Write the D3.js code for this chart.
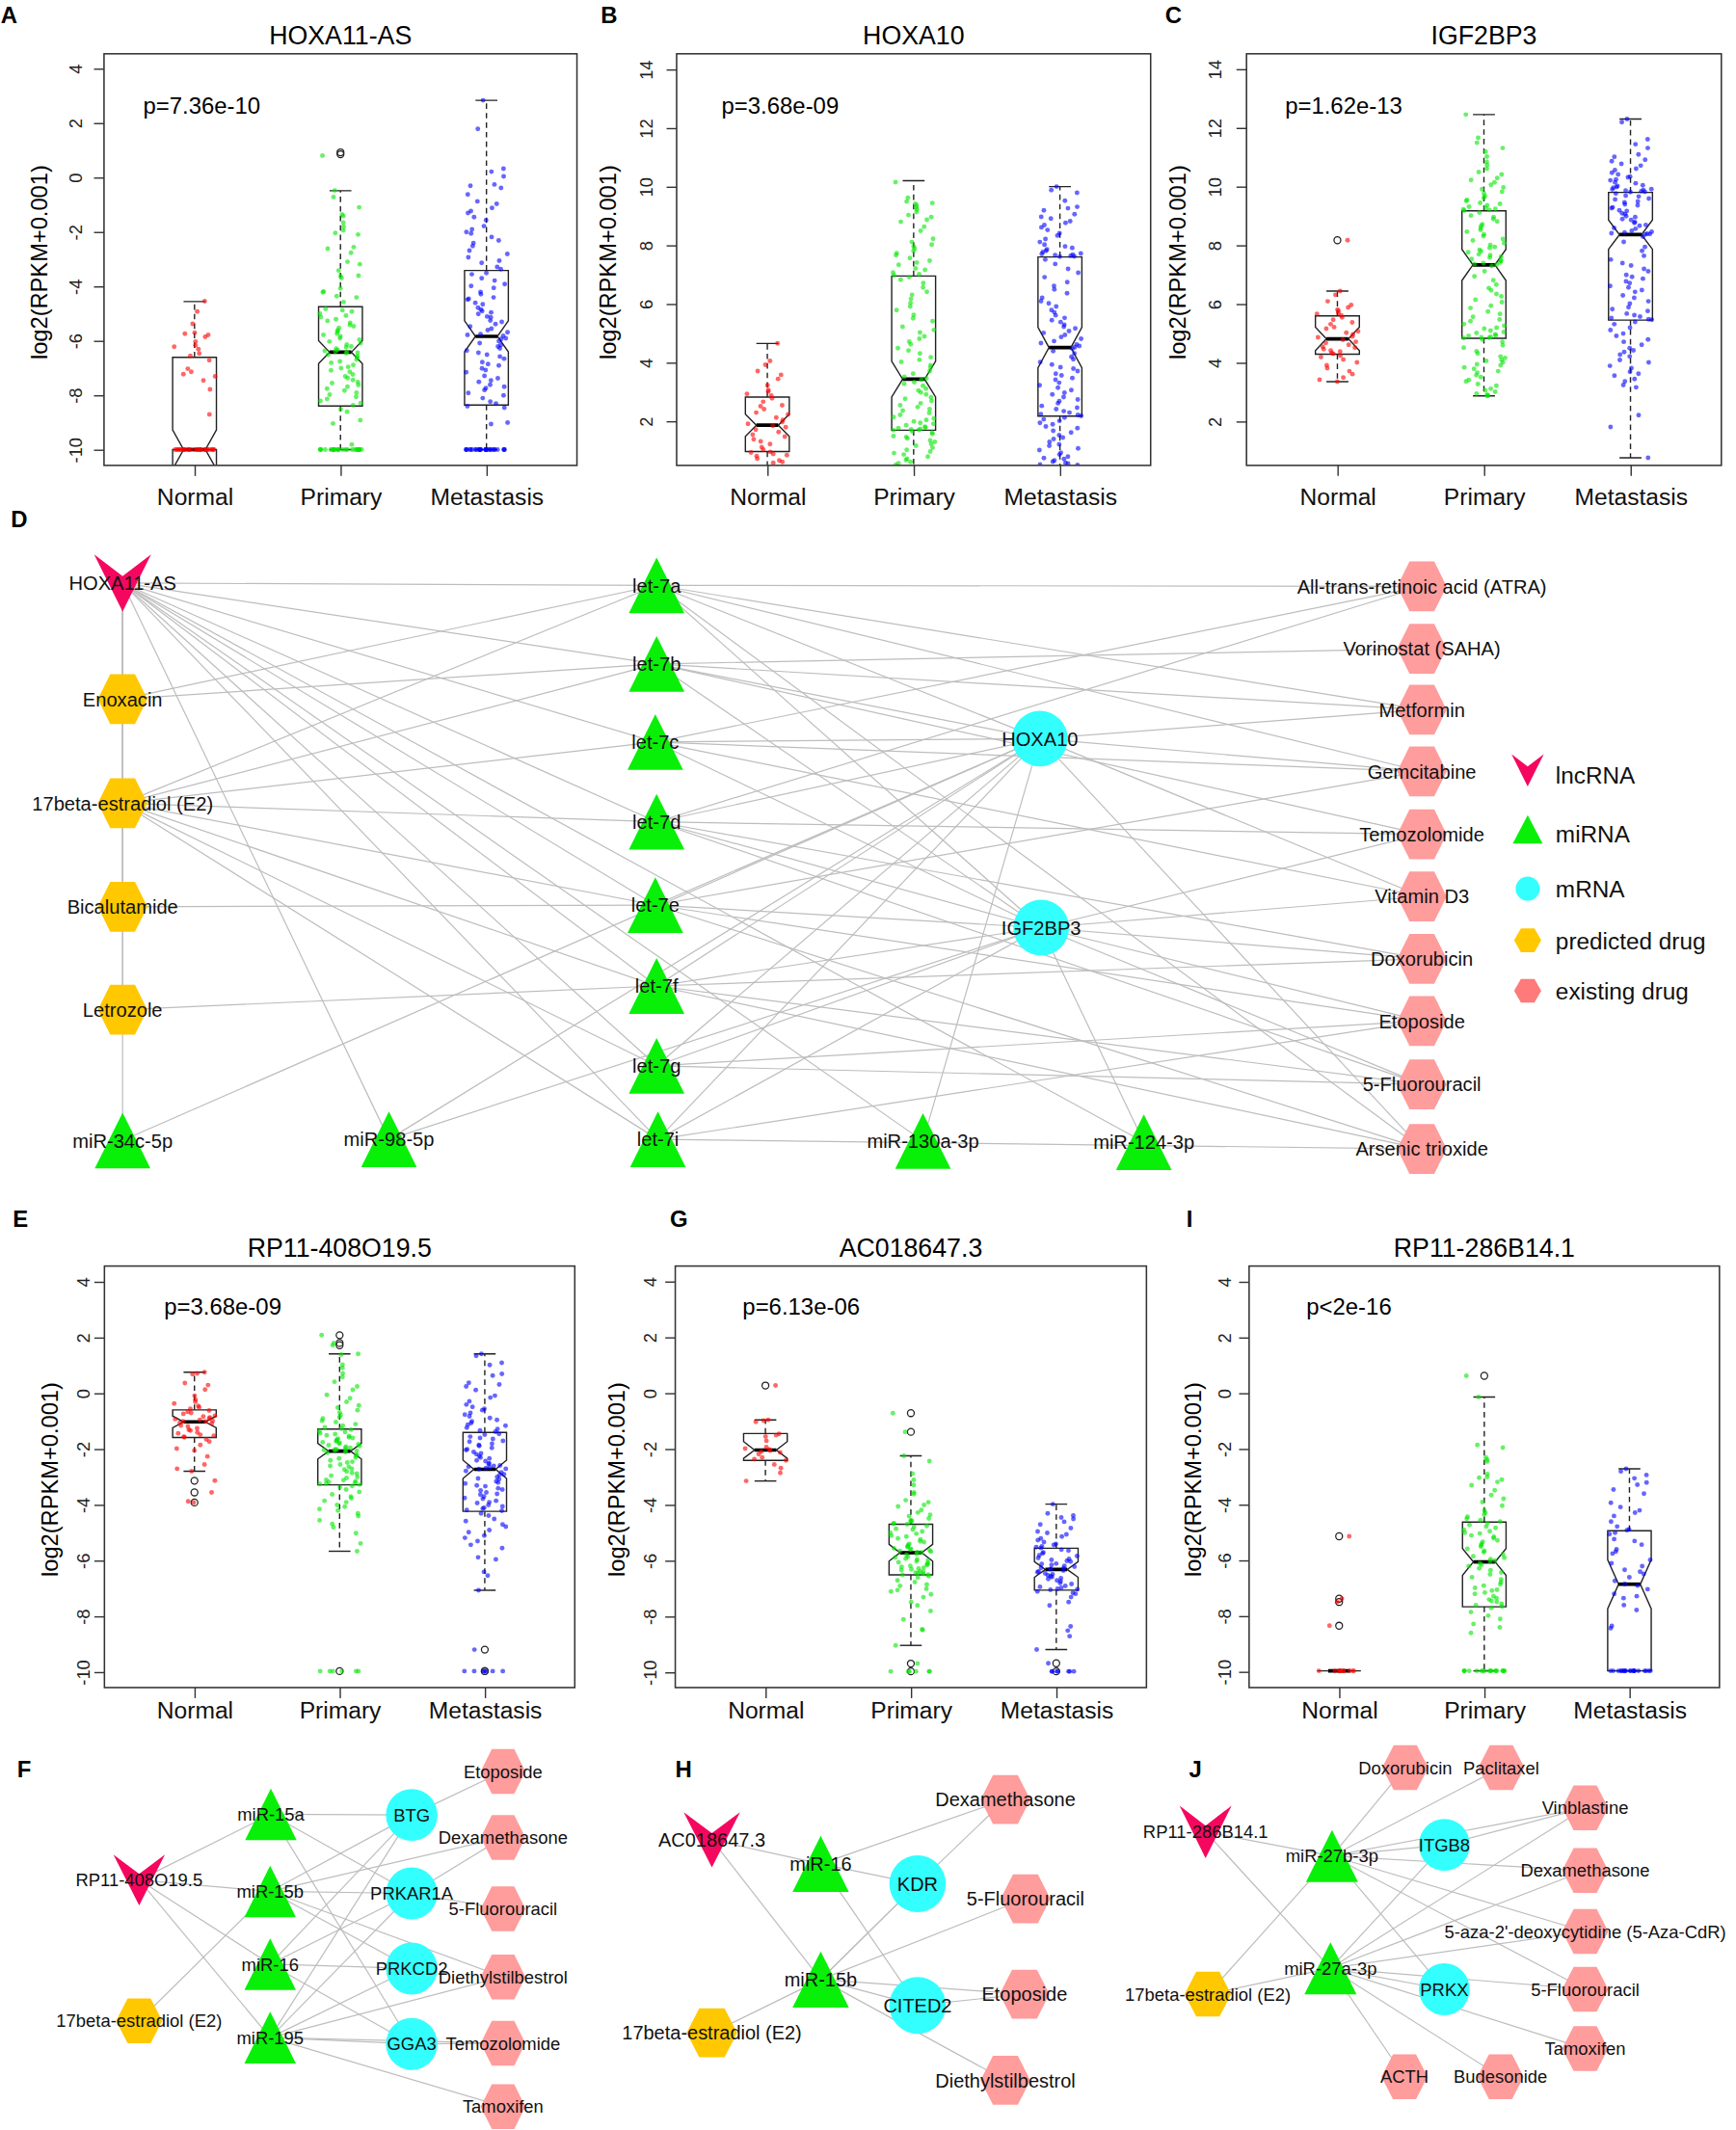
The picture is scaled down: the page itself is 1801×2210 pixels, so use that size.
<!DOCTYPE html>
<html>
<head>
<meta charset="utf-8">
<script src="https://cdn.jsdelivr.net/npm/d3@7"></script>
<style>
  body { margin: 0; background: #fff; }
  svg { display: block; }
  text { font-family: "Liberation Sans", Arial, Helvetica, sans-serif; }
</style>
</head>
<body>
<svg id="fig"></svg>
<script>
// ---------- data: expression values, log2(RPKM+0.001) ----------
const groupNames = ['Normal', 'Primary', 'Metastasis'];
const ticksLow = [-10, -8, -6, -4, -2, 0, 2, 4];
const ticksHigh = [2, 4, 6, 8, 10, 12, 14];

// A  HOXA11-AS
const hoxa11asNormal = [-4.55,-4.93,-5.38,-5.74,-5.79,-5.86,-5.71,-6.03,-6.17,-6.22,-6.31,-6.47,-6.56,-6.72,-7.03,-7.14,-7.23,-7.31,-7.46,-7.79,-8.71,
  -10,-10,-10,-10,-10,-10,-10,-10,-10,-10,-10,-10,-10,-10,-10,-10,-10,-10,-10,-10,-10,-10,-10,-10,-10];
const hoxa11asPrimary = [0.8,-0.48,-0.72,-1.1,-1.36,-1.42,-1.66,-1.81,-1.95,-2.04,-2.1,-2.56,-2.62,-2.77,-3.1,-3.19,-3.42,-3.61,-3.63,-3.7,-4.08,-4.19,-4.22,-4.36,-4.41,-4.58,
  -4.83,-4.88,-4.93,-5.01,-5.08,-5.13,-5.21,-5.27,-5.34,-5.42,-5.47,-5.53,-5.62,-5.66,-5.74,-5.79,-5.84,-5.91,-5.96,-6.03,-6.09,-6.14,-6.21,-6.24,-6.29,-6.34,-6.37,-6.4,-6.41,
  -6.44,-6.46,-6.51,-6.57,-6.63,-6.69,-6.76,-6.81,-6.89,-6.96,-7.01,-7.09,-7.14,-7.24,-7.31,-7.37,-7.44,-7.52,-7.56,-7.63,-7.69,-7.76,-7.83,-7.91,-7.98,-8.06,-8.14,-8.21,-8.29,-8.37,
  -8.52,-8.61,-8.92,-9.04,-9.81,-10,-10,-10,-10,-10,-10,-10,-10,-10,-10,-10,-10,-10,-10,-10,-10,-10,-10,-10,-10,-10,-10,-10,-10,-10];
const hoxa11asMetastasis = [2.83,1.78,0.32,0.21,0.04,-0.26,-0.31,-0.39,-0.63,-0.88,-0.97,-1.12,-1.24,-1.31,-1.46,-1.57,-1.79,-1.91,-2.01,-2.06,-2.19,-2.32,-2.41,-2.52,-2.69,-2.81,-2.94,-3.06,-3.14,-3.29,-3.37,
  -3.51,-3.56,-3.71,-3.79,-3.92,-3.99,-4.06,-4.21,-4.29,-4.41,-4.46,-4.49,-4.61,-4.66,-4.79,-4.86,-4.91,-4.96,-5.02,-5.11,-5.14,-5.26,-5.31,-5.39,-5.48,-5.56,-5.61,-5.69,-5.76,-5.79,-5.82,
  -5.91,-5.94,-6.02,-6.09,-6.16,-6.21,-6.28,-6.36,-6.44,-6.51,-6.58,-6.66,-6.79,-6.86,-6.91,-7.02,-7.08,-7.16,-7.29,-7.38,-7.46,-7.51,-7.62,-7.69,-7.74,-7.81,-7.92,-8.01,-8.11,-8.24,-8.31,
  -8.41,-8.46,-9.01,-9.06,-10,-10,-10,-10,-10,-10,-10,-10,-10,-10,-10,-10,-10,-10,-10,-10,-10,-10,-10,-10,-10,-10,-10,-10,-10,-10,-10];
// box stats per group: [lower whisker, Q1, median, Q3, upper whisker, notch half-height]
const hoxa11asStats = [[-10,-10,-10,-6.61,-4.56,0.72],[-10,-8.4,-6.42,-4.75,-0.49,0.42],[-10,-8.36,-5.84,-3.42,2.83,0.57]];
const hoxa11asOutliers = [[], [0.85, 0.92], []];

// B  HOXA10
const hoxa10Normal = [4.65,4.05,3.92,3.71,3.58,3.44,3.22,3.06,3.01,2.93,2.87,2.78,2.66,2.54,2.51,2.41,2.29,2.23,2.12,2.04,1.97,1.91,1.84,1.79,1.71,1.63,1.54,1.47,1.38,1.31,1.22,1.11,1.03,0.95,0.93,0.88,0.84,0.81,0.72,0.66,0.61,0.58];
const hoxa10Primary = [10.15,9.62,9.49,9.44,9.41,9.36,9.29,9.22,9.13,9.03,8.96,8.87,8.8,8.63,8.49,8.22,8.11,8.02,7.96,7.88,7.81,7.73,7.66,7.56,7.47,7.41,7.33,7.21,7.16,7.07,7.01,6.97,
  6.91,6.82,6.71,6.56,6.41,6.31,6.17,6.03,5.91,5.79,5.62,5.51,5.41,5.22,5.11,5.02,4.89,4.81,4.71,4.62,4.49,4.41,4.31,4.18,4.09,4.02,3.91,3.82,3.71,3.62,3.51,3.46,
  3.41,3.33,3.27,3.21,3.11,3.04,2.98,2.91,2.81,2.76,2.69,2.61,2.54,2.48,2.41,2.36,2.28,2.21,2.14,2.09,2.04,1.99,1.94,1.91,1.86,1.81,1.78,1.76,1.73,1.72,1.7,1.69,
  1.65,1.61,1.56,1.49,1.46,1.41,1.34,1.29,1.22,1.16,1.09,1.02,0.96,0.91,0.86,0.79,0.72,0.67,0.61,0.56,0.51];
const hoxa10Metastasis = [10.0,9.88,9.79,9.52,9.31,9.26,9.19,9.06,8.97,8.91,8.82,8.76,8.69,8.61,8.52,8.41,8.33,8.21,8.11,8.02,7.96,7.91,7.86,7.81,7.77,7.72,7.7,7.68,7.66,7.64,7.62,7.61,
  7.51,7.36,7.19,7.06,6.91,6.74,6.61,6.49,6.36,6.21,6.09,6.02,5.91,5.79,5.71,5.61,5.52,5.44,5.38,5.29,5.22,5.16,5.07,5.01,4.94,4.87,4.81,4.73,4.66,4.61,4.56,4.52,
  4.47,4.39,4.31,4.19,4.11,4.01,3.93,3.84,3.79,3.71,3.62,3.56,3.47,3.41,3.31,3.22,3.14,3.06,2.97,2.91,2.82,2.74,2.68,2.61,2.52,2.46,2.41,2.34,2.29,2.24,2.21,2.18,
  2.12,2.06,2.01,1.94,1.89,1.82,1.76,1.67,1.61,1.52,1.44,1.39,1.29,1.21,1.16,1.07,1.01,0.92,0.86,0.79,0.74,0.71,0.66,0.62,0.58,0.55,0.52,0.5];
const hoxa10Stats = [[0.45,0.96,1.86,2.82,4.65,0.38],[0.3,1.69,3.43,6.95,10.2,0.61],[0.3,2.17,4.51,7.6,10.0,0.69]];
const hoxa10Outliers = [[], [], []];

// C  IGF2BP3
const igf2bp3Normal = [8.17,6.44,6.31,6.09,5.96,5.88,5.81,5.76,5.69,5.66,5.61,5.54,5.46,5.37,5.31,5.21,5.16,5.07,5.02,4.96,4.89,4.86,4.78,4.71,4.67,4.61,4.54,4.51,4.46,4.41,4.38,4.33,4.3,4.24,4.19,4.11,4.01,3.91,3.81,3.71,3.61,3.49,3.42,3.35];
const igf2bp3Primary = [12.45,11.66,11.49,11.31,11.19,11.02,10.84,10.73,10.61,10.49,10.41,10.29,10.22,10.14,10.06,9.97,9.91,9.82,9.76,9.67,9.61,9.54,9.51,9.44,9.41,9.36,9.31,9.27,9.24,9.22,9.2,9.18,
  9.11,9.01,8.96,8.89,8.81,8.71,8.66,8.59,8.52,8.46,8.37,8.31,8.21,8.16,8.07,8.01,7.94,7.91,7.84,7.79,7.76,7.69,7.66,7.61,7.58,7.53,7.49,7.46,7.41,7.39,7.36,7.34,
  7.29,7.11,6.94,6.81,6.66,6.54,6.46,6.34,6.26,6.14,6.06,5.94,5.86,5.74,5.66,5.56,5.47,5.41,5.31,5.26,5.19,5.16,5.09,5.04,5.01,4.96,4.93,4.91,4.88,4.86,4.85,4.84,
  4.79,4.71,4.59,4.51,4.39,4.31,4.21,4.16,4.09,4.06,4.01,3.94,3.91,3.84,3.79,3.71,3.66,3.57,3.51,3.41,3.36,3.27,3.21,3.11,3.06,3.01,2.94,2.91,2.88,2.87];
const igf2bp3Metastasis = [12.3,12.19,11.61,11.44,11.31,11.09,11.01,10.91,10.86,10.77,10.71,10.61,10.56,10.47,10.41,10.34,10.31,10.24,10.21,10.14,10.11,10.04,10.02,9.98,9.96,9.91,9.9,9.88,9.86,9.84,9.82,9.81,
  9.76,9.69,9.66,9.59,9.56,9.49,9.46,9.39,9.36,9.29,9.26,9.19,9.16,9.09,9.06,8.99,8.96,8.89,8.86,8.79,8.76,8.69,8.66,8.59,8.56,8.49,8.46,8.43,8.41,8.39,8.38,8.37,
  8.29,8.11,7.94,7.81,7.64,7.51,7.39,7.31,7.19,7.11,6.99,6.92,6.86,6.77,6.71,6.61,6.56,6.47,6.41,6.29,6.21,6.09,6.01,5.89,5.82,5.76,5.67,5.62,5.57,5.52,5.48,5.46,
  5.39,5.31,5.19,5.11,4.99,4.91,4.79,4.71,4.61,4.49,4.42,4.36,4.27,4.21,4.09,4.01,3.89,3.81,3.69,3.62,3.56,3.44,3.36,3.24,3.16,2.21,1.81,0.76];
const igf2bp3Stats = [[3.35,4.29,4.81,5.59,6.44,0.4],[2.87,4.83,7.33,9.17,12.45,0.53],[0.76,5.45,8.36,9.8,12.3,0.5]];
const igf2bp3Outliers = [[8.17], [], []];

// E  RP11-408O19.5
const rp11408Normal = [0.75,0.71,0.68,0.36,0.29,0.13,-0.09,-0.23,-0.31,-0.37,-0.46,-0.51,-0.56,-0.62,-0.67,-0.71,-0.74,-0.81,-0.84,-0.87,-0.91,-0.93,-0.96,-0.99,-1.01,-1.02,
  -1.06,-1.09,-1.16,-1.19,-1.26,-1.31,-1.34,-1.41,-1.44,-1.49,-1.53,-1.56,-1.58,-1.66,-1.74,-1.86,-1.99,-2.06,-2.27,-2.56,-2.71,-2.8,-3.14,-3.56,-3.92,-3.88];
const rp11408Primary = [2.08,1.8,1.72,1.41,1.38,1.02,0.91,0.71,0.58,0.41,0.24,0.12,-0.06,-0.18,-0.31,-0.44,-0.52,-0.61,-0.69,-0.78,-0.86,-0.91,-0.99,-1.04,-1.11,-1.17,-1.23,-1.27,
  -1.31,-1.36,-1.39,-1.44,-1.47,-1.51,-1.54,-1.58,-1.61,-1.63,-1.67,-1.71,-1.72,-1.76,-1.78,-1.81,-1.83,-1.87,-1.89,-1.92,-1.96,-1.97,-2.01,-2.02,-2.04,-2.05,-2.06,-2.07,
  -2.11,-2.14,-2.21,-2.24,-2.31,-2.34,-2.41,-2.46,-2.49,-2.56,-2.61,-2.64,-2.71,-2.74,-2.81,-2.86,-2.89,-2.96,-3.01,-3.04,-3.11,-3.12,-3.16,-3.19,-3.21,-3.24,-3.26,-3.28,
  -3.33,-3.37,-3.46,-3.54,-3.63,-3.71,-3.77,-3.86,-3.91,-4.01,-4.07,-4.16,-4.21,-4.31,-4.41,-4.56,-4.69,-4.81,-5.02,-5.39,-5.67,-9.97,-9.97,-9.97,-9.97,-9.97,-9.97];
const rp11408Metastasis = [1.41,1.34,1.09,1.01,0.69,0.63,0.37,0.31,0.24,0.11,-0.09,-0.16,-0.29,-0.41,-0.49,-0.56,-0.61,-0.71,-0.77,-0.83,-0.89,-0.96,-1.01,-1.07,-1.13,-1.17,-1.24,-1.29,-1.34,-1.38,
  -1.46,-1.49,-1.56,-1.61,-1.64,-1.71,-1.74,-1.81,-1.86,-1.89,-1.96,-2.01,-2.04,-2.11,-2.16,-2.19,-2.26,-2.31,-2.34,-2.41,-2.44,-2.51,-2.54,-2.59,-2.61,-2.64,-2.66,-2.69,-2.71,-2.72,
  -2.79,-2.84,-2.91,-2.94,-3.01,-3.06,-3.09,-3.16,-3.21,-3.24,-3.31,-3.34,-3.41,-3.46,-3.49,-3.56,-3.61,-3.64,-3.71,-3.76,-3.79,-3.86,-3.91,-3.94,-4.01,-4.06,-4.11,-4.14,-4.19,-4.22,
  -4.31,-4.39,-4.51,-4.59,-4.71,-4.79,-4.91,-4.99,-5.11,-5.19,-5.31,-5.44,-5.56,-5.89,-5.96,-6.41,-6.54,-7.07,-9.2,-9.97,-9.97,-9.97,-9.97,-9.97,-9.97,-9.97];
const rp11408Stats = [[-2.8,-1.59,-1.03,-0.6,0.75,0.21],[-5.67,-3.29,-2.08,-1.29,1.41,0.28],[-7.07,-4.24,-2.73,-1.41,1.41,0.33]];
const rp11408Outliers = [[-3.14,-3.56,-3.92], [2.08,1.8,1.72,-9.97], [-9.2,-9.97,-9.97]];

// G  AC018647.3
const ac018Normal = [0.27,-0.96,-0.99,-1.03,-1.46,-1.51,-1.56,-1.71,-1.94,-1.99,-2.02,-2.06,-2.09,-2.13,-2.19,-2.31,-2.37,-2.41,-2.56,-2.69,-2.86,-3.15];
const ac018Primary = [-0.72,-1.39,-2.25,-2.44,-2.89,-3.11,-3.29,-3.56,-3.62,-3.84,-3.91,-4.01,-4.06,-4.19,-4.28,-4.36,-4.41,-4.49,-4.56,-4.58,-4.61,-4.66,-4.68,-4.7,
  -4.76,-4.79,-4.86,-4.89,-4.96,-5.01,-5.04,-5.11,-5.14,-5.21,-5.24,-5.31,-5.34,-5.41,-5.44,-5.49,-5.51,-5.56,-5.58,-5.61,-5.63,-5.66,-5.68,-5.7,-5.71,
  -5.76,-5.79,-5.86,-5.89,-5.93,-5.96,-5.99,-6.03,-6.06,-6.09,-6.13,-6.16,-6.19,-6.23,-6.26,-6.29,-6.31,-6.34,-6.39,-6.41,-6.43,-6.46,-6.48,-6.5,-6.51,
  -6.56,-6.61,-6.71,-6.77,-6.86,-6.91,-7.01,-7.06,-7.11,-7.21,-7.31,-7.49,-7.61,-7.81,-8.11,-8.46,-8.49,-9.04,-9.69,-9.97,-9.97,-9.97,-9.97,-9.97,-9.97];
const ac018Metastasis = [-3.98,-4.31,-4.39,-4.46,-4.51,-4.61,-4.71,-4.84,-4.96,-5.01,-5.06,-5.14,-5.21,-5.27,-5.34,-5.41,-5.44,-5.49,-5.52,-5.55,
  -5.61,-5.64,-5.71,-5.74,-5.81,-5.84,-5.91,-5.94,-5.98,-6.01,-6.04,-6.11,-6.12,-6.16,-6.19,-6.22,-6.26,-6.28,-6.3,-6.31,
  -6.36,-6.39,-6.42,-6.46,-6.49,-6.53,-6.56,-6.59,-6.63,-6.66,-6.71,-6.74,-6.81,-6.84,-6.91,-6.94,-6.98,-7.01,-7.03,-7.05,
  -7.11,-7.16,-7.19,-7.31,-7.49,-7.61,-8.36,-8.51,-8.71,-9.19,-9.68,-9.97,-9.97,-9.97,-9.97,-9.97,-9.97,-9.97];
const ac018Stats = [[-3.15,-2.41,-2.04,-1.45,-0.96,0.3],[-9.04,-6.51,-5.72,-4.7,-2.25,0.3],[-9.19,-7.06,-6.32,-5.56,-3.98,0.28]];
const ac018Outliers = [[0.27], [-0.72,-1.39,-9.69,-9.97], [-9.68,-9.97]];

// I  RP11-286B14.1
const rp11286Normal = [-5.14,-7.38,-7.5,-8.35,-9.97,-9.97,-9.97,-9.97,-9.97,-9.97,-9.97,-9.97,-9.97,-9.97];
const rp11286Primary = [0.62,-0.14,-1.86,-1.96,-2.31,-2.39,-2.46,-2.91,-3.01,-3.04,-3.11,-3.19,-3.31,-3.49,-3.66,-3.79,-3.91,-4.04,-4.21,-4.29,-4.36,-4.44,-4.51,-4.56,-4.61,
  -4.67,-4.73,-4.79,-4.84,-4.91,-4.96,-5.01,-5.04,-5.11,-5.16,-5.21,-5.29,-5.34,-5.41,-5.46,-5.51,-5.59,-5.66,-5.71,-5.79,-5.86,-5.91,-5.96,-6.01,-6.04,
  -6.11,-6.16,-6.21,-6.29,-6.36,-6.44,-6.51,-6.61,-6.69,-6.79,-6.86,-6.91,-6.99,-7.06,-7.09,-7.16,-7.21,-7.29,-7.36,-7.41,-7.46,-7.49,-7.56,-7.61,-7.66,
  -7.71,-7.86,-7.99,-8.11,-8.29,-8.41,-8.61,-9.97,-9.97,-9.97,-9.97,-9.97,-9.97,-9.97,-9.97,-9.97,-9.97,-9.97,-9.97,-9.97,-9.97,-9.97,-9.97,-9.97,-9.97];
const rp11286Metastasis = [-2.72,-2.81,-2.94,-3.06,-3.21,-3.29,-3.46,-3.61,-3.94,-4.09,-4.21,-4.29,-4.41,-4.61,-4.79,-4.89,-4.92,
  -5.01,-5.06,-5.24,-5.31,-5.44,-5.61,-5.69,-5.76,-5.99,-6.11,-6.21,-6.34,-6.41,-6.49,-6.61,-6.74,-6.85,
  -6.91,-7.04,-7.21,-7.29,-7.36,-7.61,-7.79,-8.36,-8.44,-9.97,-9.97,-9.97,-9.97,-9.97,-9.97,-9.97,-9.97,-9.97,-9.97,-9.97,-9.97,-9.97,-9.97,-9.97,-9.97,-9.97,-9.97,-9.97,-9.97];
const rp11286Stats = [[-9.97,-9.97,-9.97,-9.97,-9.97,0],[-9.97,-7.67,-6.06,-4.63,-0.14,0.48],[-9.97,-9.97,-6.86,-4.94,-2.72,0.88]];
const rp11286Outliers = [[-5.14,-7.38,-7.5,-8.35], [0.62], []];

// ---------- data: networks  [name, type, layoutX 0-100, layoutY 0-100] ----------
const netD = [
  ['HOXA11-AS','lnc',0,0], ['Enoxacin','pred',0,20.5], ['17beta-estradiol (E2)','pred',0,38.9],
  ['Bicalutamide','pred',0,57.2], ['Letrozole','pred',0,75.4], ['miR-34c-5p','mi',0,98.5], ['miR-98-5p','mi',20.5,98.3],
  ['let-7a','mi',41.1,0.4], ['let-7b','mi',41.1,14.3], ['let-7c','mi',41.0,28.1], ['let-7d','mi',41.1,42.2],
  ['let-7e','mi',41.0,56.9], ['let-7f','mi',41.1,71.2], ['let-7g','mi',41.1,85.3], ['let-7i','mi',41.2,98.3],
  ['HOXA10','m',70.6,27.5], ['IGF2BP3','m',70.7,60.9], ['miR-130a-3p','mi',61.6,98.6], ['miR-124-3p','mi',78.6,98.8],
  ['All-trans-retinoic acid (ATRA)','ex',100,0.6], ['Vorinostat (SAHA)','ex',100,11.6], ['Metformin','ex',100,22.4],
  ['Gemcitabine','ex',100,33.3], ['Temozolomide','ex',100,44.4], ['Vitamin D3','ex',100,55.4], ['Doxorubicin','ex',100,66.4],
  ['Etoposide','ex',100,77.4], ['5-Fluorouracil','ex',100,88.6], ['Arsenic trioxide','ex',100,100]
];
const linksD = [
  ['HOXA11-AS','Enoxacin'],['HOXA11-AS','17beta-estradiol (E2)'],['HOXA11-AS','Bicalutamide'],['HOXA11-AS','Letrozole'],['HOXA11-AS','miR-34c-5p'],
  ['HOXA11-AS','let-7a'],['HOXA11-AS','let-7b'],['HOXA11-AS','let-7c'],['HOXA11-AS','let-7d'],['HOXA11-AS','let-7e'],['HOXA11-AS','let-7f'],
  ['HOXA11-AS','let-7g'],['HOXA11-AS','let-7i'],['HOXA11-AS','miR-98-5p'],['HOXA11-AS','miR-130a-3p'],['HOXA11-AS','miR-124-3p'],
  ['Enoxacin','let-7a'],['Enoxacin','let-7b'],
  ['17beta-estradiol (E2)','let-7a'],['17beta-estradiol (E2)','let-7b'],['17beta-estradiol (E2)','let-7c'],['17beta-estradiol (E2)','let-7d'],
  ['17beta-estradiol (E2)','let-7e'],['17beta-estradiol (E2)','let-7f'],['17beta-estradiol (E2)','let-7g'],['17beta-estradiol (E2)','let-7i'],
  ['Bicalutamide','let-7e'],['Letrozole','let-7f'],
  ['miR-34c-5p','HOXA10'],['miR-98-5p','HOXA10'],['miR-98-5p','IGF2BP3'],
  ['let-7a','All-trans-retinoic acid (ATRA)'],['let-7a','Metformin'],['let-7a','Gemcitabine'],['let-7a','HOXA10'],['let-7a','IGF2BP3'],['let-7a','Arsenic trioxide'],
  ['let-7b','Vorinostat (SAHA)'],['let-7b','Metformin'],['let-7b','HOXA10'],['let-7b','IGF2BP3'],['let-7b','Temozolomide'],
  ['let-7c','All-trans-retinoic acid (ATRA)'],['let-7c','HOXA10'],['let-7c','Gemcitabine'],['let-7c','IGF2BP3'],['let-7c','Vitamin D3'],
  ['let-7d','All-trans-retinoic acid (ATRA)'],['let-7d','Temozolomide'],['let-7d','HOXA10'],['let-7d','IGF2BP3'],['let-7d','Doxorubicin'],['let-7d','5-Fluorouracil'],
  ['let-7e','HOXA10'],['let-7e','IGF2BP3'],['let-7e','Gemcitabine'],['let-7e','Etoposide'],['let-7e','Arsenic trioxide'],
  ['let-7f','HOXA10'],['let-7f','IGF2BP3'],['let-7f','Doxorubicin'],['let-7f','5-Fluorouracil'],['let-7f','Arsenic trioxide'],
  ['let-7g','HOXA10'],['let-7g','IGF2BP3'],['let-7g','Etoposide'],['let-7g','5-Fluorouracil'],
  ['let-7i','HOXA10'],['let-7i','IGF2BP3'],['let-7i','Etoposide'],['let-7i','Arsenic trioxide'],
  ['HOXA10','Metformin'],['HOXA10','Gemcitabine'],['HOXA10','Vitamin D3'],['HOXA10','miR-130a-3p'],['HOXA10','Arsenic trioxide'],
  ['IGF2BP3','Vitamin D3'],['IGF2BP3','Doxorubicin'],['IGF2BP3','Etoposide'],['IGF2BP3','5-Fluorouracil'],['IGF2BP3','miR-124-3p'],['IGF2BP3','Temozolomide']
];

const netF = [
  ['RP11-408O19.5','lnc',0,32.4], ['17beta-estradiol (E2)','pred',0,74.4],
  ['miR-15a','mi',36.2,12.8], ['miR-15b','mi',36.0,35.8], ['miR-16','mi',36.0,57.5], ['miR-195','mi',36.0,79.4],
  ['BTG','m',74.9,13.0], ['PRKAR1A','m',74.9,36.4], ['PRKCD2','m',74.9,58.8], ['GGA3','m',74.9,81.3],
  ['Etoposide','ex',100,0], ['Dexamethasone','ex',100,19.7], ['5-Fluorouracil','ex',100,41.0],
  ['Diethylstilbestrol','ex',100,61.3], ['Temozolomide','ex',100,81.1], ['Tamoxifen','ex',100,100]
];
const linksF = [
  ['RP11-408O19.5','miR-15a'],['RP11-408O19.5','miR-15b'],['RP11-408O19.5','miR-16'],['RP11-408O19.5','miR-195'],
  ['17beta-estradiol (E2)','miR-15b'],
  ['miR-15a','BTG'],['miR-15a','PRKAR1A'],['miR-15a','GGA3'],
  ['miR-15b','BTG'],['miR-15b','PRKAR1A'],['miR-15b','PRKCD2'],['miR-15b','Dexamethasone'],['miR-15b','Diethylstilbestrol'],
  ['miR-16','BTG'],['miR-16','PRKAR1A'],['miR-16','PRKCD2'],['miR-16','GGA3'],
  ['miR-195','BTG'],['miR-195','PRKAR1A'],['miR-195','PRKCD2'],['miR-195','GGA3'],['miR-195','Diethylstilbestrol'],
  ['miR-195','Tamoxifen'],['miR-195','Temozolomide'],
  ['BTG','Etoposide'],['PRKAR1A','Dexamethasone'],['PRKAR1A','5-Fluorouracil'],['GGA3','Temozolomide']
];

const netH = [
  ['AC018647.3','lnc',0,14.3], ['17beta-estradiol (E2)','pred',0,83.1],
  ['miR-16','mi',34.7,22.9], ['miR-15b','mi',34.7,64.1], ['KDR','m',65.6,30.0], ['CITED2','m',65.6,73.3],
  ['Dexamethasone','ex',93.6,0], ['5-Fluorouracil','ex',100,35.3], ['Etoposide','ex',99.7,69.3], ['Diethylstilbestrol','ex',93.6,100]
];
const linksH = [
  ['AC018647.3','miR-16'],['AC018647.3','miR-15b'],['17beta-estradiol (E2)','miR-15b'],
  ['miR-16','Dexamethasone'],['miR-16','KDR'],['miR-16','CITED2'],['KDR','Dexamethasone'],
  ['miR-15b','KDR'],['miR-15b','KDR'],['miR-15b','5-Fluorouracil'],['miR-15b','CITED2'],
  ['miR-15b','Etoposide'],['miR-15b','Diethylstilbestrol'],['CITED2','Etoposide']
];

const netJ = [
  ['RP11-286B14.1','lnc',0,20.8], ['17beta-estradiol (E2)','pred',0.6,73.3],
  ['miR-27b-3p','mi',33.3,28.6], ['miR-27a-3p','mi',32.9,64.9], ['ITGB8','m',62.9,25.0], ['PRKX','m',62.9,71.7],
  ['Doxorubicin','ex',52.6,0], ['Paclitaxel','ex',77.9,0], ['Vinblastine','ex',100,13.0], ['Dexamethasone','ex',100,33.3],
  ["5-aza-2'-deoxycytidine (5-Aza-CdR)",'ex',100,53.0], ['5-Fluorouracil','ex',100,71.7], ['Tamoxifen','ex',100,90.9],
  ['ACTH','ex',52.4,100], ['Budesonide','ex',77.7,100]
];
const linksJ = [
  ['RP11-286B14.1','miR-27b-3p'],['RP11-286B14.1','miR-27a-3p'],
  ['17beta-estradiol (E2)','miR-27b-3p'],['17beta-estradiol (E2)','miR-27a-3p'],
  ['miR-27b-3p','Doxorubicin'],['miR-27b-3p','Paclitaxel'],['miR-27b-3p','ITGB8'],['miR-27b-3p','Vinblastine'],
  ['miR-27b-3p','Dexamethasone'],["miR-27b-3p","5-aza-2'-deoxycytidine (5-Aza-CdR)"],['miR-27b-3p','5-Fluorouracil'],['miR-27b-3p','PRKX'],
  ['miR-27a-3p','ITGB8'],['miR-27a-3p','Vinblastine'],['miR-27a-3p','Dexamethasone'],["miR-27a-3p","5-aza-2'-deoxycytidine (5-Aza-CdR)"],
  ['miR-27a-3p','PRKX'],['miR-27a-3p','5-Fluorouracil'],['miR-27a-3p','Tamoxifen'],['miR-27a-3p','ACTH'],['miR-27a-3p','Budesonide'],
  ['ITGB8','Vinblastine']
];

const legendLabels = ['lncRNA', 'miRNA', 'mRNA', 'predicted drug', 'existing drug'];
const legendTypes = ['lnc', 'mi', 'm', 'pred', 'exLegend'];

// ---------- drawing ----------
const W = 1280, H = 1568;
const svg = d3.select('#fig')
  .attr('width', 1801).attr('height', 2210)
  .attr('viewBox', `0 0 ${W} ${H}`)
  .attr('preserveAspectRatio', 'none');
svg.append('rect').attr('width', W).attr('height', H).attr('fill', '#fff');

const groupColors = ['#ff0000', '#00e800', '#0000ff'];
const nodeFill = { lnc: '#f5075f', mi: '#08f008', m: '#33ffff', pred: '#ffc800', ex: '#ff9c9c', exLegend: '#ff7a7a' };

// deterministic horizontal spread for the strip points
function jitter(i, k) {
  const s = Math.sin((i + 1) * 12.9898 + (k + 1) * 78.233) * 43758.5453;
  return (s - Math.floor(s)) * 2 - 1;
}

function drawBoxPanel(cfg, L) {
  const g = svg.append('g');
  const x = d3.scaleLinear().domain([0.38, 3.62]).range([L.x0, L.x1]);
  const y = d3.scaleLinear().domain(L.dom).range([L.y1, L.y0]);
  const clipId = 'clip' + cfg.letter;
  svg.append('clipPath').attr('id', clipId).append('rect')
    .attr('x', L.x0).attr('y', L.y0).attr('width', L.x1 - L.x0).attr('height', L.y1 - L.y0);
  const plot = g.append('g').attr('clip-path', `url(#${clipId})`);
  const hw = 0.15;
  const line = d3.line().x(d => x(d[0])).y(d => y(d[1]));

  cfg.stats.forEach((s, k) => {
    const c = k + 1;
    const [lo, q1, med, q3, hi, n] = s;
    [[q3, hi], [q1, lo]].forEach(([a, b]) => {
      plot.append('line').attr('x1', x(c)).attr('x2', x(c)).attr('y1', y(a)).attr('y2', y(b))
        .attr('stroke', '#222').attr('stroke-width', 1).attr('stroke-dasharray', '4,3');
      plot.append('line').attr('x1', x(c - hw / 2)).attr('x2', x(c + hw / 2)).attr('y1', y(b)).attr('y2', y(b))
        .attr('stroke', '#222').attr('stroke-width', 1);
    });
    const poly = [[c - hw, q1], [c + hw, q1], [c + hw, med - n], [c + hw / 2, med], [c + hw, med + n],
      [c + hw, q3], [c - hw, q3], [c - hw, med + n], [c - hw / 2, med], [c - hw, med - n]];
    plot.append('path').attr('d', line(poly) + 'Z').attr('fill', 'none').attr('stroke', '#222').attr('stroke-width', 1);
    plot.append('line').attr('x1', x(c - hw / 2)).attr('x2', x(c + hw / 2)).attr('y1', y(med)).attr('y2', y(med))
      .attr('stroke', '#000').attr('stroke-width', 2.6);
    plot.append('g').selectAll('circle').data(cfg.out[k]).join('circle')
      .attr('cx', x(c)).attr('cy', v => y(v)).attr('r', 2.5)
      .attr('fill', 'none').attr('stroke', '#222').attr('stroke-width', 0.9);
  });

  cfg.data.forEach((vals, k) => {
    plot.append('g').selectAll('circle').data(vals).join('circle')
      .attr('cx', (v, i) => x(k + 1 + jitter(i, k) * 0.145))
      .attr('cy', v => y(v)).attr('r', 1.75)
      .attr('fill', groupColors[k]).attr('fill-opacity', 0.6);
  });

  const ya = g.append('g').attr('transform', `translate(${L.x0},0)`)
    .call(d3.axisLeft(y).tickValues(cfg.ticks).tickFormat(d => String(d)).tickSize(7.4).tickSizeOuter(0));
  ya.select('.domain').remove();
  ya.selectAll('.tick line').attr('stroke', '#333');
  ya.selectAll('.tick text')
    .attr('x', 0).attr('dy', '0.35em').attr('text-anchor', 'middle')
    .attr('transform', `translate(${-L.tickOff},0) rotate(-90)`)
    .attr('font-size', 13).attr('font-family', '"Liberation Sans", Arial, sans-serif').attr('fill', '#222');

  const xa = g.append('g').attr('transform', `translate(0,${L.y1})`)
    .call(d3.axisBottom(x).tickValues([1, 2, 3]).tickFormat(i => groupNames[i - 1]).tickSize(7.8).tickSizeOuter(0));
  xa.select('.domain').remove();
  xa.selectAll('.tick line').attr('stroke', '#333');
  xa.selectAll('.tick text').attr('y', L.catBase - L.y1).attr('dy', 0)
    .attr('font-size', 17.5).attr('font-family', '"Liberation Sans", Arial, sans-serif').attr('fill', '#111');

  g.append('rect').attr('x', L.x0).attr('y', L.y0).attr('width', L.x1 - L.x0).attr('height', L.y1 - L.y0)
    .attr('fill', 'none').attr('stroke', '#333').attr('stroke-width', 1.1);

  g.append('text').attr('x', (L.x0 + L.x1) / 2).attr('y', L.titleBase).attr('text-anchor', 'middle')
    .attr('font-size', 19).text(cfg.title);
  g.append('text').attr('x', L.pX).attr('y', L.pBase).attr('font-size', 17).text(cfg.p);
  g.append('text').attr('transform', `translate(${L.x0 - L.titleOff},${(L.y0 + L.y1) / 2 + 2}) rotate(-90)`)
    .attr('text-anchor', 'middle').attr('dy', '0.35em').attr('font-size', 16.8).text('log2(RPKM+0.001)');
}

const row1 = { y0: 39.6, y1: 342.6, titleBase: 32.4, pBase: 83.5, catBase: 372 };
const row2 = { y0: 932, y1: 1242.3, titleBase: 925, pBase: 967.5, catBase: 1265 };

drawBoxPanel({ letter: 'A', title: 'HOXA11-AS', p: 'p=7.36e-10', ticks: ticksLow,
  data: [hoxa11asNormal, hoxa11asPrimary, hoxa11asMetastasis], stats: hoxa11asStats, out: hoxa11asOutliers },
  Object.assign({ x0: 76.7, x1: 425.4, dom: [-10.58, 4.54], pX: 105.5, tickOff: 21, titleOff: 48 }, row1));
drawBoxPanel({ letter: 'B', title: 'HOXA10', p: 'p=3.68e-09', ticks: ticksHigh,
  data: [hoxa10Normal, hoxa10Primary, hoxa10Metastasis], stats: hoxa10Stats, out: hoxa10Outliers },
  Object.assign({ x0: 498.9, x1: 848.4, dom: [0.49, 14.53], pX: 532, tickOff: 22.4, titleOff: 50.5 }, row1));
drawBoxPanel({ letter: 'C', title: 'IGF2BP3', p: 'p=1.62e-13', ticks: ticksHigh,
  data: [igf2bp3Normal, igf2bp3Primary, igf2bp3Metastasis], stats: igf2bp3Stats, out: igf2bp3Outliers },
  Object.assign({ x0: 919.1, x1: 1269.2, dom: [0.5, 14.52], pX: 947.5, tickOff: 23.4, titleOff: 50.5 }, row1));
drawBoxPanel({ letter: 'E', title: 'RP11-408O19.5', p: 'p=3.68e-09', ticks: ticksLow,
  data: [rp11408Normal, rp11408Primary, rp11408Metastasis], stats: rp11408Stats, out: rp11408Outliers },
  Object.assign({ x0: 77, x1: 423.8, dom: [-10.56, 4.56], pX: 121, tickOff: 15.8, titleOff: 40.3 }, row2));
drawBoxPanel({ letter: 'G', title: 'AC018647.3', p: 'p=6.13e-06', ticks: ticksLow,
  data: [ac018Normal, ac018Primary, ac018Metastasis], stats: ac018Stats, out: ac018Outliers },
  Object.assign({ x0: 497.9, x1: 845.3, dom: [-10.55, 4.55], pX: 547.5, tickOff: 18.4, titleOff: 42.9 }, row2));
drawBoxPanel({ letter: 'I', title: 'RP11-286B14.1', p: 'p<2e-16', ticks: ticksLow,
  data: [rp11286Normal, rp11286Primary, rp11286Metastasis], stats: rp11286Stats, out: rp11286Outliers },
  Object.assign({ x0: 921, x1: 1267.8, dom: [-10.57, 4.56], pX: 963.2, tickOff: 17.7, titleOff: 41 }, row2));

// ---------- network glyphs ----------
function shapePath(type, sz) {
  const [w, h] = sz;
  if (type === 'lnc') return `M${-w / 2},${-h / 2}L0,${-h / 2 + 0.38 * h}L${w / 2},${-h / 2}L0,${h / 2}Z`;
  if (type === 'mi') return `M0,${-h / 2}L${w / 2},${h / 2}L${-w / 2},${h / 2}Z`;
  if (type === 'm') {
    const rx = w / 2, ry = h / 2;
    return `M${-rx},0A${rx},${ry} 0 1,0 ${rx},0A${rx},${ry} 0 1,0 ${-rx},0Z`;
  }
  return `M${-w / 2},0L${-w / 4},${-h / 2}L${w / 4},${-h / 2}L${w / 2},0L${w / 4},${h / 2}L${-w / 4},${h / 2}Z`;
}

function drawNetwork(nodes, links, L) {
  const x = d3.scaleLinear().domain([0, 100]).range(L.xr);
  const y = d3.scaleLinear().domain([0, 100]).range(L.yr);
  const pos = new Map(nodes.map(n => [n[0], [x(n[2]), y(n[3])]]));
  const g = svg.append('g');
  g.append('g').selectAll('line').data(links).join('line')
    .attr('x1', e => pos.get(e[0])[0]).attr('y1', e => pos.get(e[0])[1])
    .attr('x2', e => pos.get(e[1])[0]).attr('y2', e => pos.get(e[1])[1])
    .attr('stroke', '#bdbdbd').attr('stroke-width', 0.85);
  g.append('g').selectAll('path').data(nodes).join('path')
    .attr('transform', n => `translate(${x(n[2])},${y(n[3])})`)
    .attr('d', n => shapePath(n[1], L.size[n[1]]))
    .attr('fill', n => nodeFill[n[1]]);
  g.append('g').selectAll('text').data(nodes).join('text')
    .attr('x', n => x(n[2])).attr('y', n => y(n[3]))
    .attr('text-anchor', 'middle').attr('dy', '0.36em')
    .attr('font-size', L.font).attr('fill', '#111').text(n => n[0]);
}

drawNetwork(netD, linksD, {
  xr: [90.4, 1048.4], yr: [429.2, 845.8], font: 14.3,
  size: { lnc: [42, 42], mi: [41, 41], m: [41, 41], pred: [36.5, 36.7], ex: [36.5, 36.7] }
});
drawNetwork(netF, linksF, {
  xr: [102.6, 370.9], yr: [1304, 1550.8], font: 13.1,
  size: { lnc: [38, 37.5], mi: [38, 38], m: [38, 38.3], pred: [34, 33], ex: [33, 33] }
});
drawNetwork(netH, linksH, {
  xr: [524.9, 756.1], yr: [1324.8, 1531.4], font: 14.2,
  size: { lnc: [41.6, 40.7], mi: [41.6, 41.4], m: [41.6, 41.9], pred: [37.3, 36], ex: [36.7, 36] }
});
drawNetwork(netJ, linksJ, {
  xr: [888.9, 1168.8], yr: [1301.2, 1528.8], font: 13.1,
  size: { lnc: [38.4, 38.6], mi: [38.4, 38.3], m: [37.5, 38.3], pred: [34.3, 33], ex: [34, 33] }
});

// legend of panel D
const legendY = [567, 610.5, 654.2, 692.2, 729.3];
const legendBase = [577, 620, 660.5, 699, 735.6];
const legendSize = { lnc: [23.8, 23.8], mi: [22, 21], m: [17.8, 17.8], pred: [20, 17.4], exLegend: [20, 17.4] };
const lg = svg.append('g');
lg.selectAll('path').data(legendTypes).join('path')
  .attr('transform', (t, i) => `translate(1126.4,${legendY[i]})`)
  .attr('d', t => shapePath(t, legendSize[t])).attr('fill', t => nodeFill[t]);
lg.selectAll('text').data(legendLabels).join('text')
  .attr('x', 1147).attr('y', (t, i) => legendBase[i]).attr('font-size', 17.3).attr('fill', '#111').text(t => t);

// panel letters
const letters = [['A', 0.5, 16.8], ['B', 443, 16.8], ['C', 859, 16.8], ['D', 8, 388], ['E', 9.5, 903],
  ['G', 494, 903], ['I', 874.7, 903], ['F', 12.6, 1308], ['H', 497.9, 1308], ['J', 876.7, 1308]];
svg.append('g').selectAll('text').data(letters).join('text')
  .attr('x', d => d[1]).attr('y', d => d[2]).attr('font-size', 17).attr('font-weight', 'bold').text(d => d[0]);
</script>
</body>
</html>
